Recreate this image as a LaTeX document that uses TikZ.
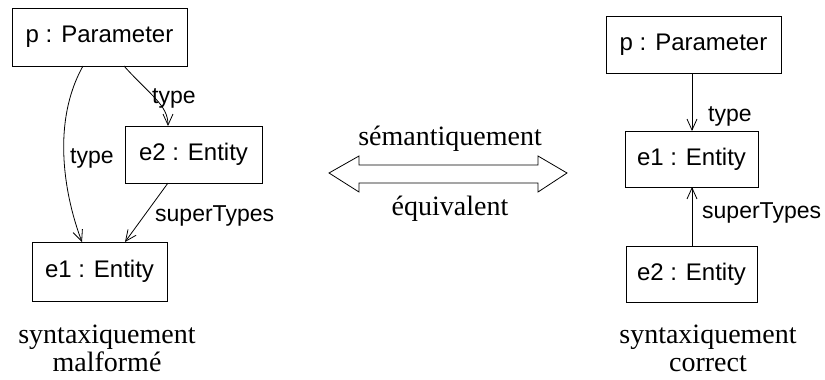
\documentclass[tikz,border=0pt]{standalone}
\usepackage{fontspec}
\setmainfont{Liberation Serif}
\newfontfamily\uisans{Liberation Sans}
\usetikzlibrary{arrows.meta}
\begin{document}
\begin{tikzpicture}[x=1pt,y=-1pt,
  obj/.style={draw=black,line width=0.9pt,inner sep=0pt,font=\uisans\fontsize{24}{28}\selectfont},
  lbl/.style={inner sep=0pt,font=\uisans\fontsize{23}{27}\selectfont},
  captext/.style={inner sep=0pt,font=\fontsize{28}{28}\selectfont},
  link/.style={line width=0.8pt,-{Straight Barb[length=11pt,width=10pt,line width=0.8pt]}}]
\useasboundingbox (0,0) rectangle (825,380);
% left diagram
\node[obj,minimum width=175pt,minimum height=58pt] (lp) at (99.5,37) {p : Parameter};
\node[obj,minimum width=137pt,minimum height=57pt] (le2) at (193.5,154.5) {e2 : Entity};
\node[obj,minimum width=135pt,minimum height=59pt] (le1) at (99.5,271.5) {e1 : Entity};
\coordinate (lpA) at (83,66);
\coordinate (lpB) at (124,66);
\coordinate (le1A) at (82,242);
\coordinate (le1B) at (125,242);
\coordinate (le2T) at (168,126);
\coordinate (le2B) at (168,183);
\draw[link] (lpA) .. controls (50,125) and (66,200) .. (le1A);
\draw[link] (lpB) .. controls (150,95) and (168,105) .. (le2T);
\draw[link] (le2B) -- (le1B);
\node[lbl,anchor=base west] (lt1) at (70,163) {type};
\node[lbl,anchor=base west] (lt2) at (152,103) {type};
\node[lbl,anchor=base west] (ls) at (155,221) {superTypes};
% right diagram
\node[obj,minimum width=175pt,minimum height=57pt] (rp) at (693.5,44.5) {p : Parameter};
\node[obj,minimum width=133pt,minimum height=56pt] (re1) at (691.5,159) {e1 : Entity};
\node[obj,minimum width=131pt,minimum height=56pt] (re2) at (691.5,274) {e2 : Entity};
\coordinate (rpS) at (692,73);
\coordinate (re1N) at (692,131);
\coordinate (re1S) at (692,187);
\coordinate (re2N) at (692,246);
\draw[link] (rpS) -- (re1N);
\draw[link] (re2N) -- (re1S);
\node[lbl,anchor=base west] (rt) at (708,121) {type};
\node[lbl,anchor=base west] (rs) at (702,218) {superTypes};
% double arrow
\draw[line width=0.8pt,fill=white] (329,173) -- (359,156) -- (359,165) -- (538,165) -- (538,156) -- (567,173)
  -- (538,192) -- (538,183) -- (359,183) -- (359,192) -- cycle;
\node[captext,anchor=base] (sem) at (450,145) {sémantiquement};
\node[captext,anchor=base] (equ) at (450,215) {équivalent};
% captions
\node[captext,anchor=base] (c1) at (107,343) {syntaxiquement};
\node[captext,anchor=base] (c2) at (107,371) {malformé};
\node[captext,anchor=base] (c3) at (708,343) {syntaxiquement};
\node[captext,anchor=base] (c4) at (708,371) {correct};
\end{tikzpicture}
\end{document}
